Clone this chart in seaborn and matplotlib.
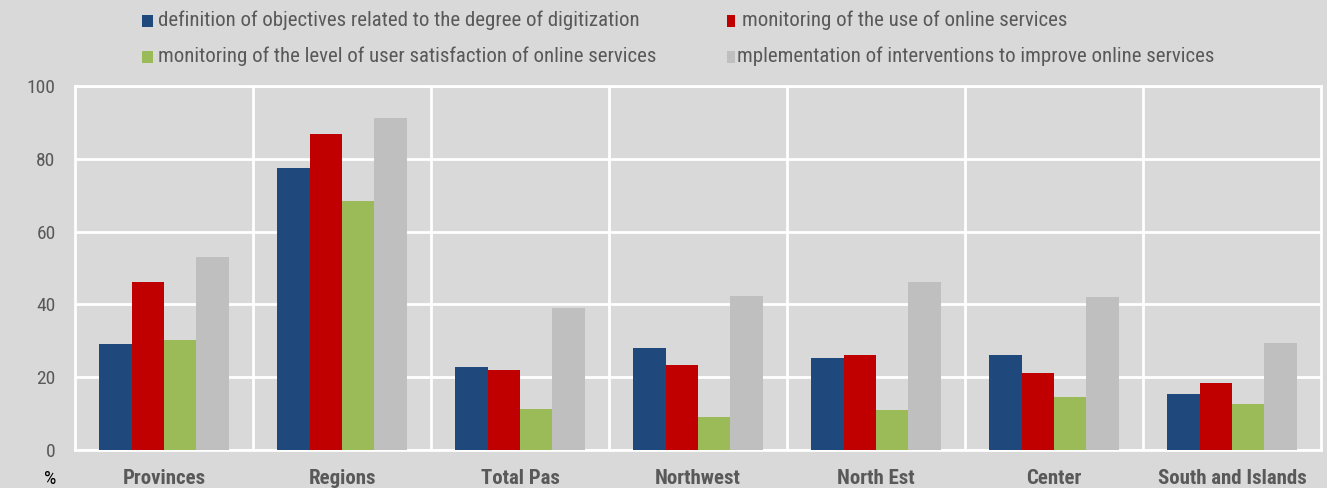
import matplotlib
matplotlib.use("Agg")
import matplotlib.pyplot as plt
from matplotlib import font_manager
from matplotlib.patches import Rectangle
import seaborn as sns
import pandas as pd
import numpy as np

categories = ["Provinces", "Regions", "Total Pas", "Northwest", "North Est", "Center", "South and Islands"]
series_names = [
    "definition of objectives related to the degree of digitization",
    "monitoring of the use of online services",
    "monitoring of the level of user satisfaction of online services",
    "mplementation of interventions to improve online services",
]
objectives = [29.1, 77.5, 22.8, 28.0, 25.3, 26.1, 15.4]
use_monitoring = [46.2, 86.8, 22.0, 23.4, 26.1, 21.2, 18.4]
satisfaction = [30.2, 68.4, 11.3, 9.1, 11.0, 14.6, 12.6]
interventions = [53.0, 91.2, 39.0, 42.3, 46.2, 42.0, 29.4]
y_ticks = [0, 20, 40, 60, 80, 100]

colors = ["#1F497D", "#C00000", "#9BBB59", "#BFBFBF"]
bg = "#D9D9D9"
text_grey = "#595959"

available = {f.name for f in font_manager.fontManager.ttflist}
narrow = "Roboto Condensed" if "Roboto Condensed" in available else "Liberation Sans"

rows = []
for name, vals in zip(series_names, [objectives, use_monitoring, satisfaction, interventions]):
    for c, v in zip(categories, vals):
        rows.append({"category": c, "series": name, "value": v})
df = pd.DataFrame(rows)

sns.set_theme(style="white")
plt.rcParams["font.family"] = [narrow, "DejaVu Sans"]

W, H = 1327, 488
fig = plt.figure(figsize=(W / 100, H / 100), dpi=100, facecolor=bg)
ax = fig.add_axes([75 / W, 38 / H, (1321 - 75) / W, (450 - 86) / H])
ax.set_facecolor(bg)

sns.barplot(data=df, x="category", y="value", hue="series", order=categories,
            hue_order=series_names, palette=colors, width=0.73, saturation=1,
            ax=ax, zorder=3, legend=False)
for p in ax.patches:
    p.set_edgecolor("none")

ax.set_ylim(0, 100)
ax.set_xlim(-0.5, len(categories) - 0.5)
ax.set_yticks(y_ticks)
ax.set_yticklabels([str(t) for t in y_ticks], fontsize=14, color=text_grey)
ax.set_xticks(range(len(categories)))
ax.set_xticklabels(categories, fontsize=15, fontweight="bold", color=text_grey)
ax.tick_params(axis="x", length=0, pad=13.5)
ax.tick_params(axis="y", length=0, pad=14)
ax.set_xlabel("")
ax.set_ylabel("")

# white grid: horizontal at y ticks, vertical between categories
ax.set_xticks(np.arange(0.5, len(categories) - 0.5, 1), minor=True)
ax.tick_params(axis="x", which="minor", length=0)
ax.grid(axis="y", which="major", color="white", linewidth=2, zorder=1)
ax.grid(axis="x", which="minor", color="white", linewidth=2, zorder=1)
ax.set_axisbelow(True)
for s in ax.spines.values():
    s.set_visible(True)
    s.set_color("white")
    s.set_linewidth(2)

fig.text(50 / W, 1 - 479 / H, "%", fontsize=14, color="black", ha="center", va="center")

# legend: two rows, two columns of colour keys
legend_items = [
    # (series index, key x, key width, text x, row centre y)
    (0, 142, 11, 158, 21),
    (1, 727, 8, 742, 21),
    (2, 142, 11, 158, 57),
    (3, 727, 8, 737, 57),
]
for idx, kx, kw, tx, cy in legend_items:
    fig.add_artist(Rectangle((kx / W, 1 - (cy + 5.5) / H), kw / W, 11 / H,
                             transform=fig.transFigure, facecolor=colors[idx],
                             edgecolor="none"))
    fig.text(tx / W, 1 - (cy - 0.5) / H, series_names[idx], fontsize=15,
             color=text_grey, ha="left", va="center")

fig.savefig("out.png", dpi=100, facecolor=bg)
